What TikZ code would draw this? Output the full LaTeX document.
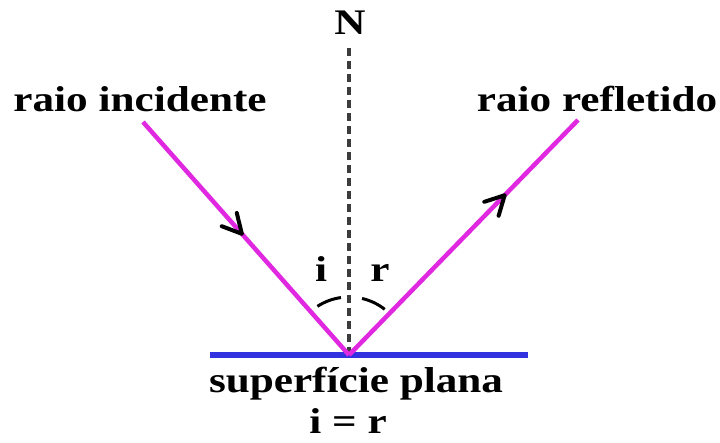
\documentclass[tikz,border=0pt]{standalone}
\usepackage{fontspec}
\setmainfont{Liberation Serif}[FakeStretch=1.2]
\usetikzlibrary{decorations.markings}
\definecolor{raycol}{RGB}{225,40,225}
\definecolor{surfcol}{RGB}{50,50,225}
\definecolor{normcol}{RGB}{60,60,60}
\tikzset{
  lbl/.style={font=\fontsize{36}{36}\selectfont\bfseries, inner sep=0pt, anchor=base},
  ray/.style={raycol, line width=4.5pt},
  barb/.style={postaction={decorate}, decoration={markings,
     mark=at position #1 with {\draw[black, line width=4pt, line cap=round, line join=round] (-19pt,10pt) -- (0pt,0pt) -- (-19pt,-10pt);}}},
  anglearc/.style={black, line width=3pt},
}
\begin{document}
\begin{tikzpicture}[x=1pt,y=-1pt]
\useasboundingbox (0,0) rectangle (720,443);
\coordinate (V) at (349,355);
\coordinate (A) at (143,122);
\coordinate (B) at (578,120);
\coordinate (S1) at (210,355);
\coordinate (S2) at (528,355);
\coordinate (Ntop) at (349,48);
% normal
\draw[normcol, line width=3.5pt, dash pattern=on 8pt off 5pt] (Ntop) -- (V);
% surface
\draw[surfcol, line width=5.5pt] (S1) -- (S2);
% rays
\draw[ray, barb=0.48] (A) -- (V);
\draw[ray, barb=0.68] (V) -- (B);
% angle arcs
\draw[anglearc] ([shift={(-123:58)}]V) arc[start angle=-123, end angle=-98, radius=58];
\draw[anglearc] ([shift={(-77:58)}]V) arc[start angle=-77, end angle=-52, radius=58];
% labels
\node[lbl] (N) at (350,35) {N};
\node[lbl] (inc) at (140,112) {raio incidente};
\node[lbl] (refl) at (597,112) {raio refletido};
\node[lbl] (il) at (321,282) {i};
\node[lbl] (rl) at (380,282) {r};
\node[lbl] (surf) at (356,392) {superfície plana};
\node[lbl] (eq) at (348,433) {i = r};
\end{tikzpicture}
\end{document}
